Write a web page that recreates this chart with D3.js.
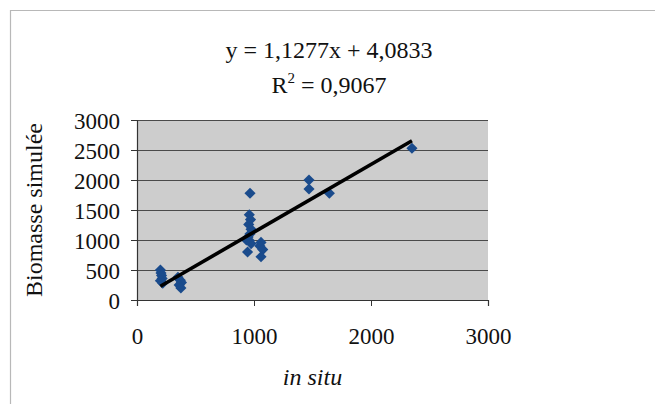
<!DOCTYPE html>
<html>
<head>
<meta charset="utf-8">
<script src="https://cdn.jsdelivr.net/npm/d3@7"></script>
<style>
  html, body { margin: 0; padding: 0; background: #fff; }
  svg, svg text { font-family: "Liberation Serif", "Times New Roman", Times, "DejaVu Serif", serif; }
</style>
</head>
<body>
<svg id="chart" width="655" height="404"></svg>
<script>
// Observed biomass (in situ) vs simulated biomass
const inSitu = [200, 205, 210, 215, 200, 220,
                350, 370, 380, 360, 375,
                966, 960, 970, 955, 975, 965, 950, 960, 975, 935, 945,
                1060, 1050, 1075, 1060,
                1470, 1470, 1644,
                2350];
const simulee = [500, 450, 410, 360, 320, 280,
                 380, 330, 290, 250, 200,
                 1780, 1420, 1340, 1260, 1180, 1100, 1050, 990, 940, 1000, 800,
                 960, 900, 840, 720,
                 2000, 1850, 1780,
                 2530];

const xTicks = [0, 1000, 2000, 3000];
const yTicks = [0, 500, 1000, 1500, 2000, 2500, 3000];

// Linear trend fitted to the series
const slope = 1.1277, intercept = 4.0833, r2 = 0.9067;
const fmt = v => String(v).replace(".", ",");

const serif = "'Liberation Serif', 'Times New Roman', Times, 'DejaVu Serif', serif";
const svg = d3.select("#chart").attr("font-family", serif);
const plot = { left: 137, right: 488, top: 120, bottom: 300 };

const x = d3.scaleLinear().domain([0, 3000]).range([plot.left, plot.right]);
const y = d3.scaleLinear().domain([0, 3000]).range([plot.bottom, plot.top]);

// Outer chart frame
svg.append("path")
  .attr("d", "M10.5,404 V10.5 H655")
  .attr("fill", "none").attr("stroke", "#b8b8b8").attr("stroke-width", 1.2);

// Plot background
svg.append("rect")
  .attr("x", plot.left).attr("y", plot.top)
  .attr("width", plot.right - plot.left).attr("height", plot.bottom - plot.top)
  .attr("fill", "#cdcdcd");

// Horizontal gridlines
svg.append("g").selectAll("line").data(yTicks.filter(d => d > 0)).join("line")
  .attr("x1", plot.left).attr("x2", plot.right)
  .attr("y1", d => y(d) + 0.5).attr("y2", d => y(d) + 0.5)
  .attr("stroke", "#4a4a4a").attr("stroke-width", 1);

// Axes
const yAxis = svg.append("g")
  .attr("transform", `translate(${plot.left},0)`)
  .call(d3.axisLeft(y).tickValues(yTicks).tickSize(6).tickPadding(11).tickFormat(d3.format("d")));
const xAxis = svg.append("g")
  .attr("transform", `translate(0,${plot.bottom})`)
  .call(d3.axisBottom(x).tickValues(xTicks).tickSize(6).tickPadding(22).tickFormat(d3.format("d")));

[yAxis, xAxis].forEach(g => {
  g.attr("font-family", serif).attr("font-size", 23);
  g.select(".domain").attr("stroke", "#333").attr("stroke-width", 1.2);
  g.selectAll(".tick line").attr("stroke", "#333").attr("stroke-width", 1);
  g.selectAll(".tick text").attr("fill", "#111");
});
yAxis.selectAll(".tick text").attr("dy", "0.36em");

// Data markers (diamonds: squares turned 45°)
const marker = d3.symbol().type(d3.symbolSquare).size(62);
svg.append("g").selectAll("path").data(inSitu.map((v, i) => [v, simulee[i]])).join("path")
  .attr("d", marker)
  .attr("transform", d => `translate(${x(d[0])},${y(d[1])}) rotate(45)`)
  .attr("fill", "#1a4b8c");

// Trend line across the observed range
const [xMin, xMax] = d3.extent(inSitu);
svg.append("line")
  .attr("x1", x(xMin)).attr("y1", y(slope * xMin + intercept))
  .attr("x2", x(xMax)).attr("y2", y(slope * xMax + intercept))
  .attr("stroke", "#000").attr("stroke-width", 3.6).attr("stroke-linecap", "butt");

// Equation and R²
svg.append("text")
  .attr("x", 329).attr("y", 58).attr("text-anchor", "middle")
  .attr("font-size", 24).attr("fill", "#111")
  .text(`y = ${fmt(slope)}x + ${fmt(intercept)}`);
const r2Text = svg.append("text")
  .attr("x", 329).attr("y", 93).attr("text-anchor", "middle")
  .attr("font-size", 24).attr("fill", "#111");
r2Text.append("tspan").text("R");
r2Text.append("tspan").attr("dy", -10).attr("font-size", 15).text("2");
r2Text.append("tspan").attr("dy", 10).text(` = ${fmt(r2)}`);

// Axis titles
svg.append("text")
  .attr("transform", "translate(42,210) rotate(-90)")
  .attr("text-anchor", "middle")
  .attr("font-size", 24).attr("fill", "#111")
  .text("Biomasse simulée");
svg.append("text")
  .attr("x", (plot.left + plot.right) / 2).attr("y", 385)
  .attr("text-anchor", "middle")
  .attr("font-size", 24).attr("font-style", "italic").attr("fill", "#111")
  .text("in situ");
</script>
</body>
</html>
